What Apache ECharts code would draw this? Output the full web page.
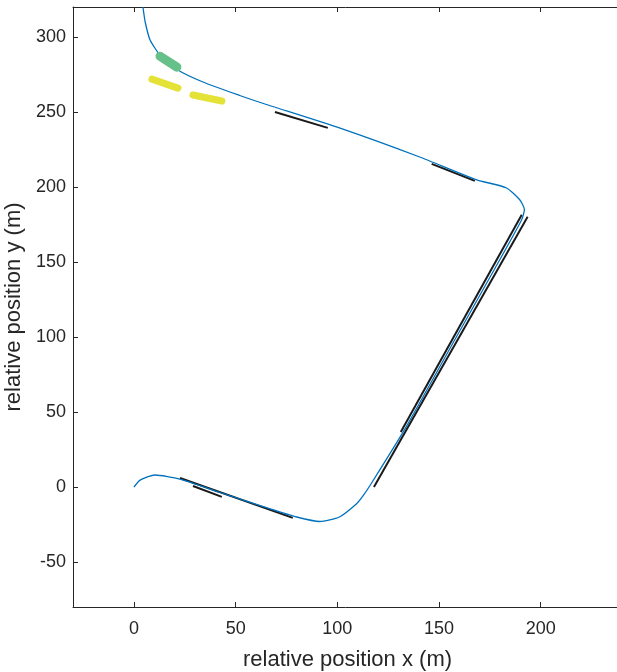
<!DOCTYPE html>
<html>
<head>
<meta charset="utf-8">
<script src="https://cdn.jsdelivr.net/npm/echarts@6/dist/echarts.min.js"></script>
<style>
  html, body { margin: 0; padding: 0; background: #fff; }
  #main { width: 617px; height: 672px; }
</style>
</head>
<body>
<div id="main"></div>
<script>
// 轨迹与车道线数据 (x, y 单位 m)
var xTicks = [0, 50, 100, 150, 200];
var yTicks = [-50, 0, 50, 100, 150, 200, 250, 300];

var path = [
  [0, 0], [3, 4.6], [10.3, 8], [22.6, 5.3], [42, -3.5], [67, -14.6], [80, -20],
  [91.4, -23], [101, -20], [109.6, -11], [112.7, -5.8], [116.3, 1.5], [133.2, 38.6],
  [157.7, 98], [177.2, 145], [190.6, 178], [192, 185], [189.7, 191.5], [183, 199.5],
  [168.5, 204.8], [140.5, 220], [101, 239.4], [62.9, 256], [52, 261], [33.9, 270],
  [21.6, 278], [12.8, 288], [7.9, 298], [5.5, 310], [4.4, 320]
];

var laneA = [[69.3, 250], [95.3, 239.4]];
var laneB = [[146.4, 215.4], [167.6, 204.1]];
var laneC = [[131.2, 36.6], [190.7, 181.5]];
var laneD = [[118, 0], [193.6, 180.2]];
var laneE = [[22.6, 6], [78.1, -20.6]];
var laneF = [[29, 0.7], [43.2, -6.6]];

var greenCar = [[12.8, 287.2], [21.1, 279.9]];
var yellowCar1 = [[8.8, 271.9], [21.6, 265.9]];
var yellowCar2 = [[29, 261.3], [43.2, 257.3]];

var chart = echarts.init(document.getElementById('main'));

function lane(data) {
  return {
    type: 'line', data: data, symbol: 'none', silent: true,
    lineStyle: { color: '#1a1a1a', width: 2 }
  };
}
function blob(data, color, w) {
  return {
    type: 'line', data: data, symbol: 'none', silent: true,
    lineStyle: { color: color, width: w, cap: 'round' }
  };
}

var axisCol = '#262626';
var font = 'Liberation Sans, Arial, sans-serif';

option = {
  backgroundColor: '#fff',
  animation: false,
  grid: { left: 73, top: 7, width: 549, height: 600, containLabel: false, outerBoundsMode: 'none' },
  xAxis: [{
    type: 'value', min: -30, max: 240,
    name: 'relative position x (m)', nameLocation: 'middle', nameGap: 42,
    nameTextStyle: { color: axisCol, fontSize: 22, fontFamily: font },
    axisLine: { onZero: false, lineStyle: { color: axisCol, width: 1 } },
    axisTick: { inside: true, length: 5, customValues: xTicks, lineStyle: { color: axisCol } },
    axisLabel: { customValues: xTicks, color: axisCol, fontSize: 18, fontFamily: font, margin: 13 },
    splitLine: { show: false }
  }, {
    type: 'value', min: -30, max: 240, position: 'top',
    axisLine: { onZero: false, lineStyle: { color: axisCol, width: 1 } },
    axisTick: { inside: true, length: 5, customValues: xTicks, lineStyle: { color: axisCol } },
    axisLabel: { show: false },
    splitLine: { show: false }
  }],
  yAxis: [{
    type: 'value', min: -80, max: 320,
    name: 'relative position y (m)', nameLocation: 'middle', nameGap: 47,
    nameTextStyle: { color: axisCol, fontSize: 22, fontFamily: font },
    axisLine: { show: true, onZero: false, lineStyle: { color: axisCol, width: 1 } },
    axisTick: { show: true, inside: true, length: 5, customValues: yTicks, lineStyle: { color: axisCol } },
    axisLabel: { customValues: yTicks, color: axisCol, fontSize: 18, fontFamily: font, margin: 7 },
    splitLine: { show: false }
  }],
  series: [
    lane(laneA), lane(laneB), lane(laneC), lane(laneD), lane(laneE), lane(laneF),
    {
      type: 'line', data: path, symbol: 'none', smooth: 0.2, silent: true,
      lineStyle: { color: '#0072BD', width: 1.3 }
    },
    blob(greenCar, '#66c08a', 9),
    blob(yellowCar1, '#e4e236', 7),
    blob(yellowCar2, '#e4e236', 7)
  ]
};
chart.setOption(option);
</script>
</body>
</html>
